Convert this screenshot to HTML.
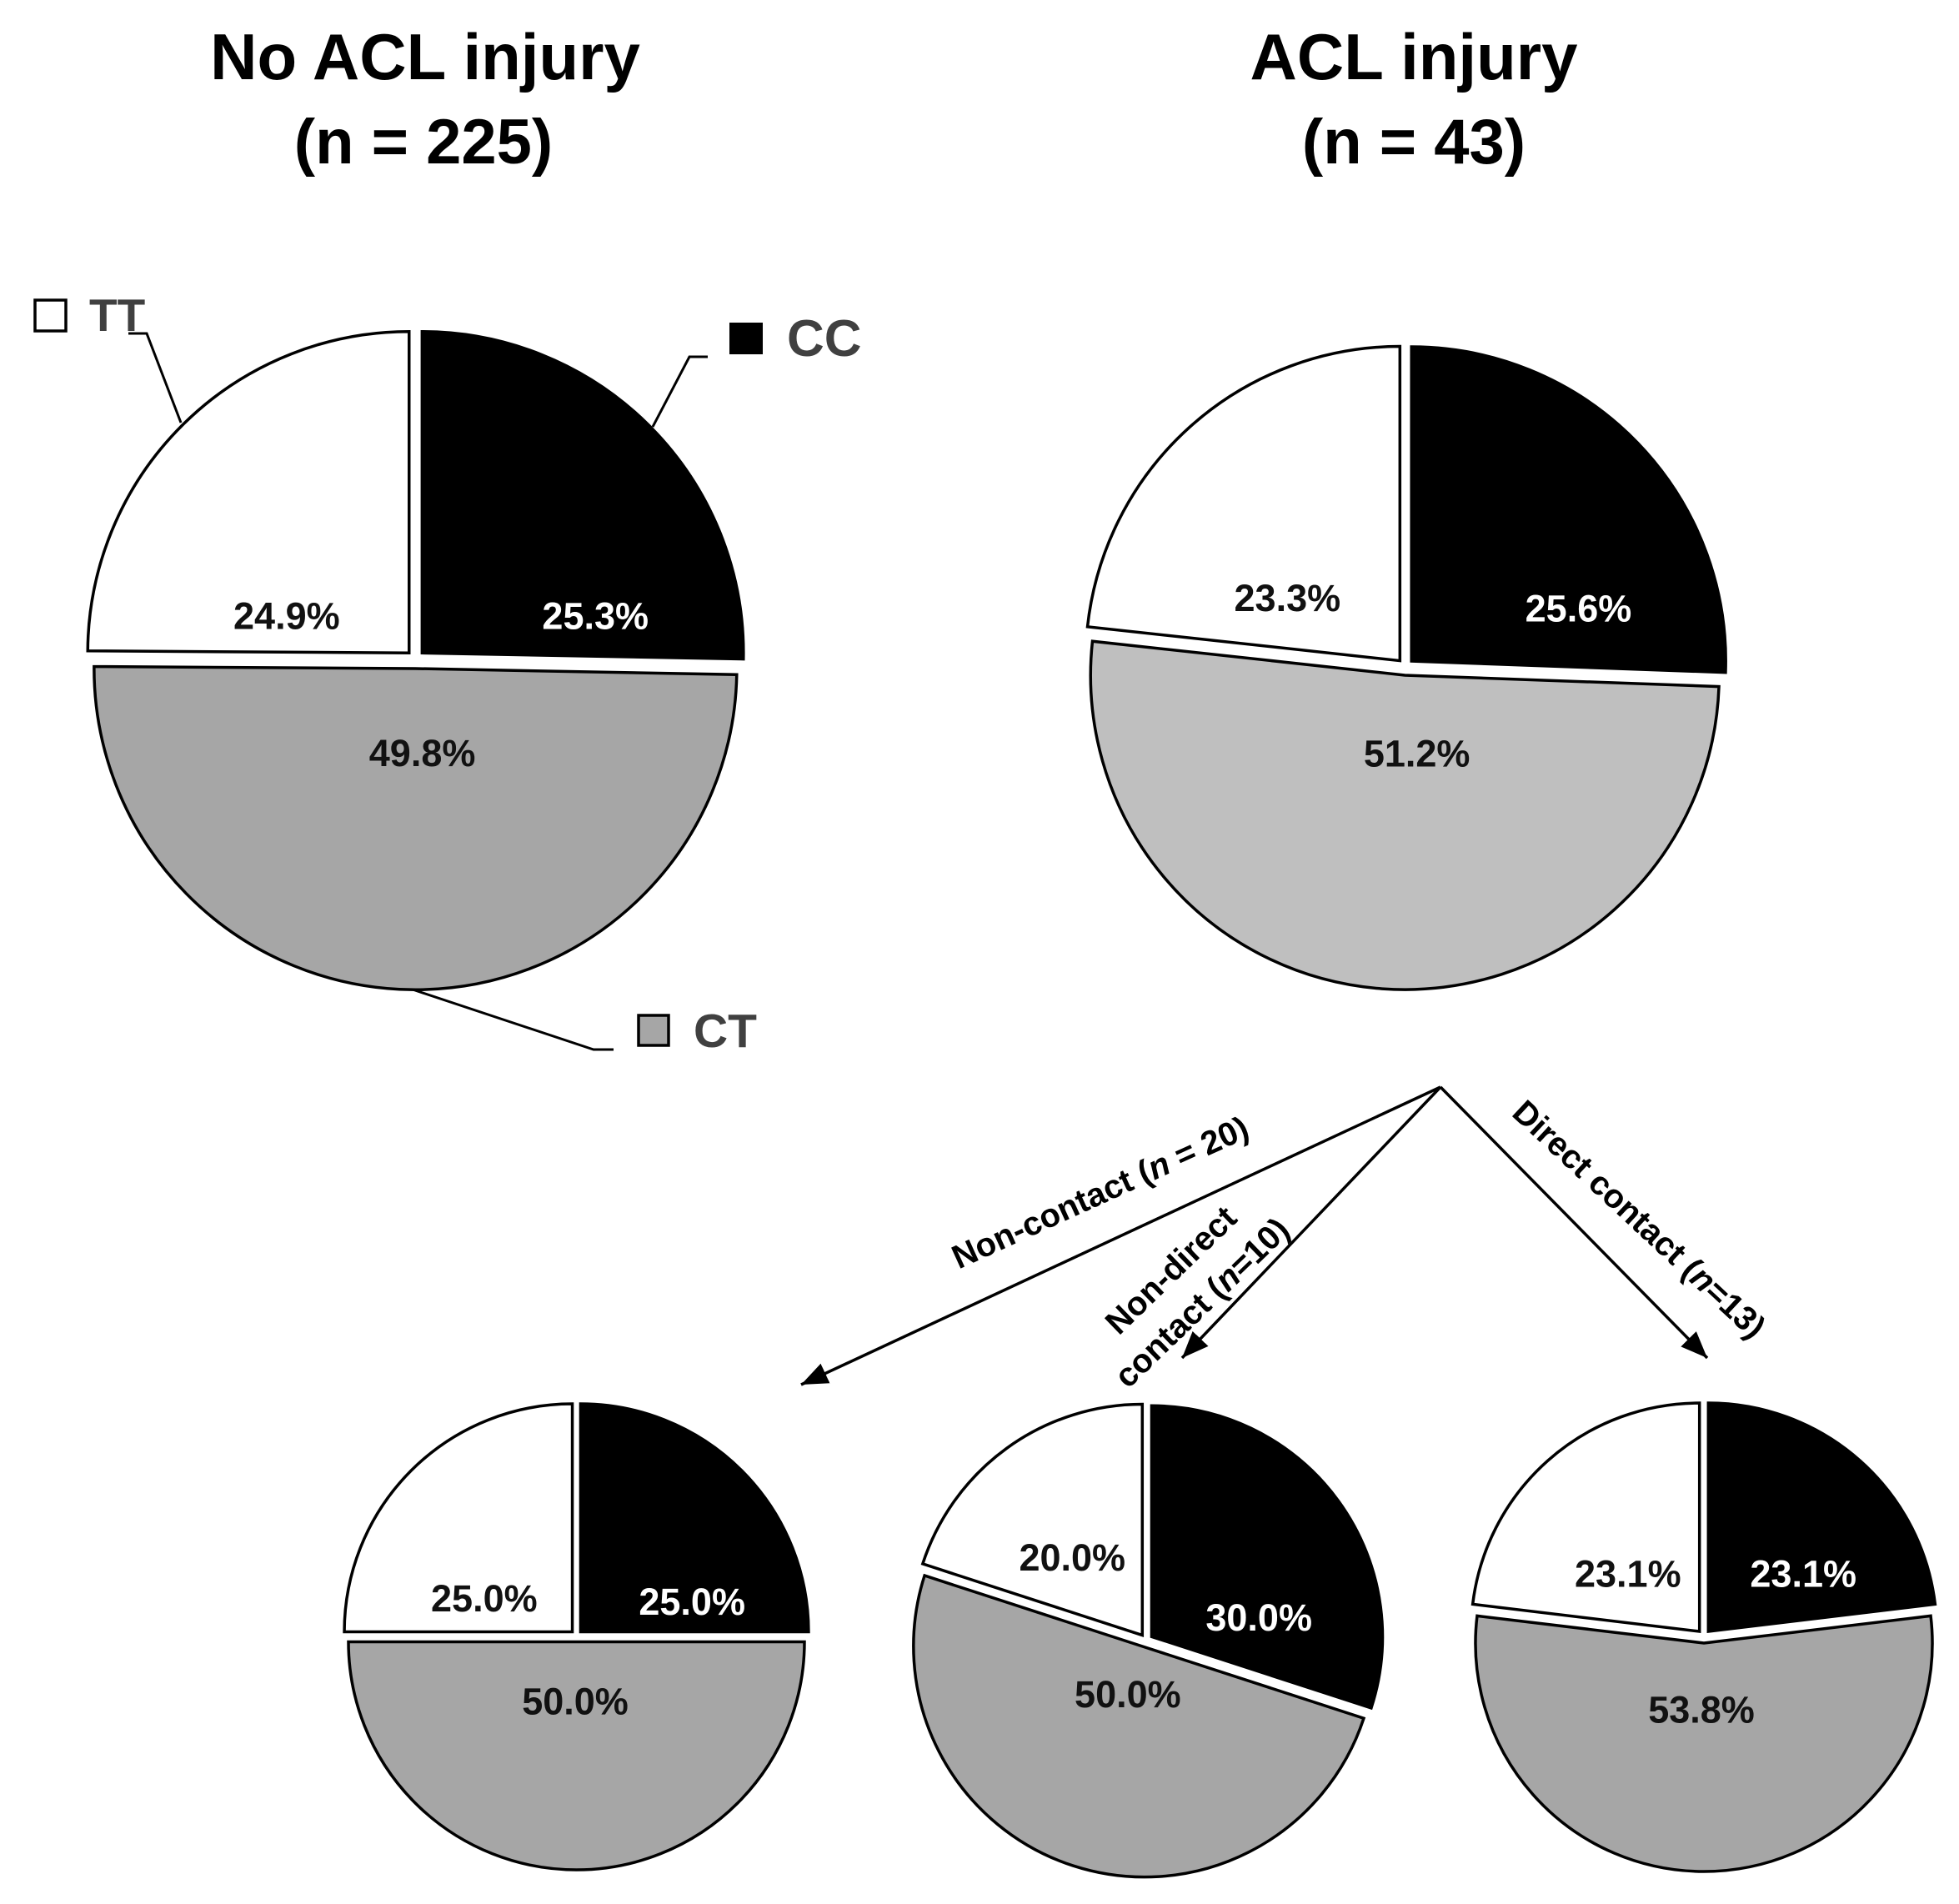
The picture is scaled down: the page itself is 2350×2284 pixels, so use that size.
<!DOCTYPE html>
<html lang="en">
<head>
<meta charset="utf-8">
<title>ACL injury pie charts</title>
<style>
html,body{margin:0;padding:0;background:#fff;}
svg{display:block;font-family:"Liberation Sans",Arial,sans-serif;font-weight:bold;}
</style>
</head>
<body>
<svg id="chart" xmlns="http://www.w3.org/2000/svg" width="2350" height="2284" viewBox="0 0 2350 2284">
  <defs>
    <marker id="arrow-head" markerUnits="userSpaceOnUse" markerWidth="36" markerHeight="28" refX="32" refY="13" orient="auto">
      <path d="M0 0 L32 13 L0 26 Z" fill="#000"></path>
    </marker>
  </defs>
  <rect x="0" y="0" width="2350" height="2284" fill="#fff"></rect>

  <g text-anchor="middle" fill="#000">
    <text x="510" y="95" font-size="78">No ACL injury</text>
    <text x="508" y="196" font-size="76">(n = 225)</text>
  </g>
  <g text-anchor="middle" fill="#000">
    <text x="1696" y="95" font-size="78">ACL injury</text>
    <text x="1696" y="196" font-size="76">(n = 43)</text>
  </g>

  <g id="pies"></g>

  <g>
    <rect x="42" y="360" width="37" height="37" fill="#fff" stroke="#000" stroke-width="3.5"></rect>
    <text x="107" y="397" font-size="55" fill="#404040">TT</text>
    <polyline points="154,400 176,400 217,507" fill="none" stroke="#000" stroke-width="3"></polyline>
    <rect x="875" y="387" width="40" height="38" fill="#000"></rect>
    <text x="944" y="427" font-size="62" fill="#404040">CC</text>
    <polyline points="849,428 827,428 783,512" fill="none" stroke="#000" stroke-width="3"></polyline>
    <rect x="766" y="1218" width="36" height="36" fill="#a6a6a6" stroke="#000" stroke-width="3.5"></rect>
    <text x="832" y="1256" font-size="57" fill="#404040">CT</text>
    <polyline points="495,1187 712,1259 736,1259" fill="none" stroke="#000" stroke-width="3"></polyline>
  </g>

  <g fill="none" stroke="#000" stroke-width="3.5">
    <line x1="1728" y1="1304" x2="961" y2="1661" marker-end="url(#arrow-head)"></line>
    <line x1="1728" y1="1304" x2="1418" y2="1629" marker-end="url(#arrow-head)"></line>
    <line x1="1728" y1="1304" x2="2048" y2="1629" marker-end="url(#arrow-head)"></line>
  </g>

  <g font-size="40" text-anchor="middle" fill="#000">
    <text transform="translate(1320,1431) rotate(-24.5)" dominant-baseline="central">Non-contact (<tspan font-style="italic">n</tspan> = 20)</text>
    <text transform="translate(1405,1524) rotate(-44)" dominant-baseline="central">Non-direct</text>
    <text transform="translate(1442,1563) rotate(-44)" dominant-baseline="central">contact (<tspan font-style="italic">n</tspan>=10)</text>
    <text transform="translate(1966,1463) rotate(43)" dominant-baseline="central">Direct contact (<tspan font-style="italic">n</tspan>=13)</text>
  </g>
</svg>
<script>
// Chart data: clockwise from 12 o'clock
const categories = ['CC', 'CT', 'TT'];
const noAclValues = [25.3, 49.8, 24.9];
const aclValues = [25.6, 51.2, 23.3];
const nonContactValues = [25.0, 50.0, 25.0];
const nonDirectValues = [30.0, 50.0, 20.0];
const directValues = [23.1, 53.8, 23.1];

const SVG_NS = 'http://www.w3.org/2000/svg';
const piesLayer = document.getElementById('pies');

function angleScale(value, total) {
  return value / total * 360;
}
function polar(cx, cy, radius, deg) {
  const a = deg * Math.PI / 180;
  return [cx + radius * Math.sin(a), cy - radius * Math.cos(a)];
}
function fmt(n) {
  return n.toFixed(2);
}

function drawPie(name, values, layout) {
  const group = document.createElementNS(SVG_NS, 'g');
  
  
  piesLayer.appendChild(group);
  const total = values.reduce(function (a, b) { return a + b; }, 0);
  const fills = { CC: '#000000', CT: layout.gray, TT: '#ffffff' };
  const textFills = { CC: '#ffffff', CT: '#111111', TT: '#111111' };
  let start = 0;
  values.forEach(function (value, i) {
    const key = categories[i];
    const span = angleScale(value, total);
    const end = start + span;
    const mid = start + span / 2;
    const apex = polar(layout.cx, layout.cy, layout.explode, mid);
    const r = layout.r - 1.5;
    const p0 = polar(apex[0], apex[1], r, start);
    const p1 = polar(apex[0], apex[1], r, end);
    const large = span > 180 ? 1 : 0;
    const slice = document.createElementNS(SVG_NS, 'path');
    
    
    slice.setAttribute('d', 'M' + fmt(apex[0]) + ' ' + fmt(apex[1]) +
      ' L' + fmt(p0[0]) + ' ' + fmt(p0[1]) +
      ' A' + r + ' ' + r + ' 0 ' + large + ' 1 ' + fmt(p1[0]) + ' ' + fmt(p1[1]) + ' Z');
    slice.setAttribute('fill', fills[key]);
    slice.setAttribute('stroke', '#000');
    slice.setAttribute('stroke-width', '3.5');
    slice.setAttribute('stroke-linejoin', 'miter');
    group.appendChild(slice);

    const anchor = polar(layout.cx, layout.cy, layout.r * 0.6, mid);
    const nudge = layout.nudges[key];
    const label = document.createElementNS(SVG_NS, 'text');
    
    
    label.setAttribute('x', fmt(anchor[0] + nudge[0]));
    label.setAttribute('y', fmt(anchor[1] + nudge[1] + 16));
    label.setAttribute('text-anchor', 'middle');
    label.setAttribute('font-size', '45');
    label.setAttribute('fill', textFills[key]);
    label.textContent = value.toFixed(1) + '%';
    group.appendChild(label);
    start = end;
  });
}

drawPie('no-acl', noAclValues, {
  cx: 498.5, cy: 791, r: 387, explode: 11, gray: '#a6a6a6',
  nudges: { CC: [50, 110], CT: [11, -120], TT: [9, 112] }
});
drawPie('acl', aclValues, {
  cx: 1686, cy: 800, r: 378.5, explode: 10, gray: '#bfbfbf',
  nudges: { CC: [44, 87], CT: [30, -123], TT: [10, 86] }
});
drawPie('non-contact', nonContactValues, {
  cx: 691.5, cy: 1962.5, r: 275, explode: 7, gray: '#a6a6a6',
  nudges: { CC: [22, 75], CT: [-1.5, -87], TT: [6, 71] }
});
drawPie('non-direct-contact', nonDirectValues, {
  cx: 1375, cy: 1968, r: 278.5, explode: 8, gray: '#a6a6a6',
  nudges: { CC: [0, 70], CT: [29.5, -95], TT: [9.5, 35] }
});
drawPie('direct-contact', directValues, {
  cx: 2044, cy: 1963, r: 275.5, explode: 8, gray: '#a6a6a6',
  nudges: { CC: [9.5, 48], CT: [-3, -78], TT: [18.5, 48] }
});
</script>
</body>
</html>
